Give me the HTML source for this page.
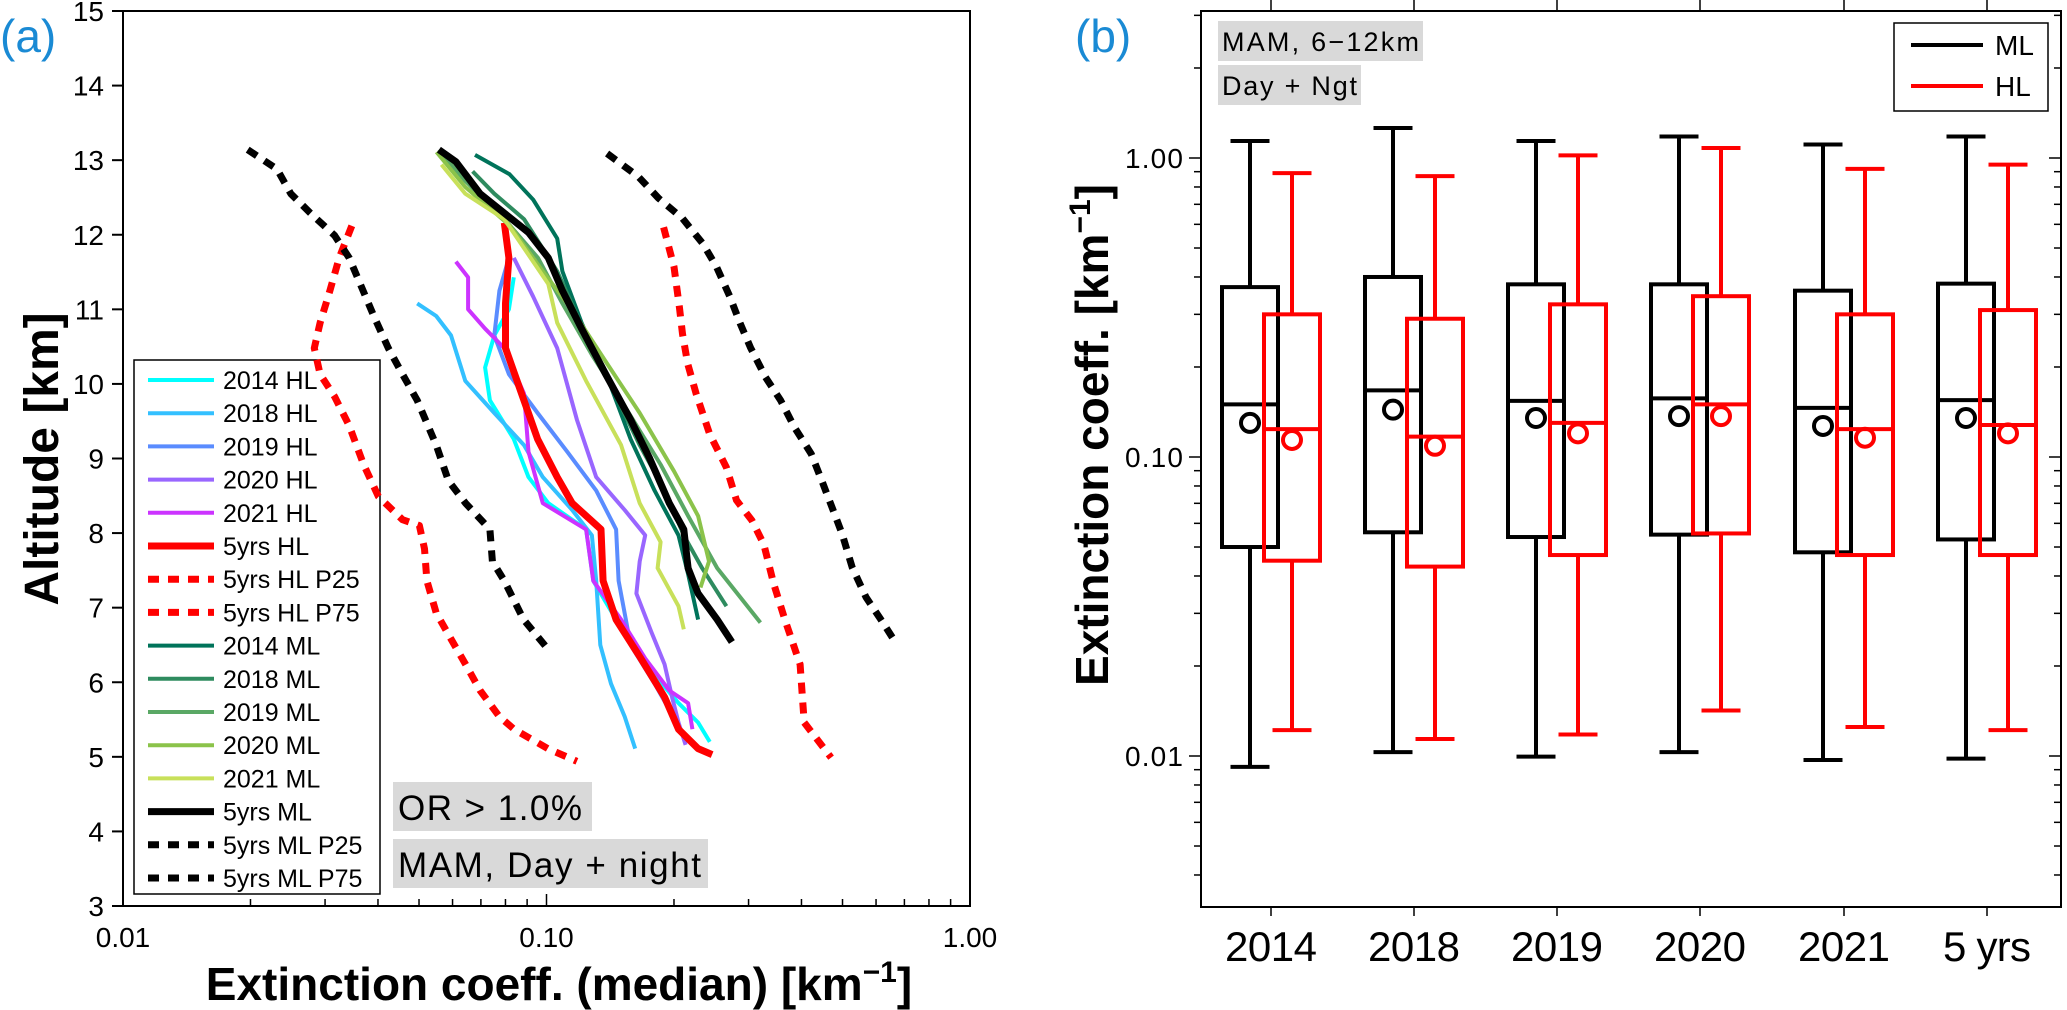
<!DOCTYPE html>
<html><head><meta charset="utf-8"><style>
html,body{margin:0;padding:0;background:#fff;}
svg{display:block;font-family:"Liberation Sans",Arial,sans-serif;}
</style></head><body>
<svg id="fig" width="2067" height="1010" viewBox="0 0 2067 1010" xmlns="http://www.w3.org/2000/svg">
<g id="pa"></g>
<g id="pb"></g>
</svg>
<script>
// ---------- Panel (a) data: extinction values (km^-1) and altitudes (km) ----------
const names=["2014 HL","2018 HL","2019 HL","2020 HL","2021 HL","5yrs HL","5yrs HL P25","5yrs HL P75","2014 ML","2018 ML","2019 ML","2020 ML","2021 ML","5yrs ML","5yrs ML P25","5yrs ML P75"];
const colors=["#00ffff","#33c0ff","#5a8cff","#9966ff","#cc33ff","#ff0000","#ff0000","#ff0000","#00735a","#2e8b5f","#5aa865","#8bc34a","#c8e05a","#000000","#000000","#000000"];
const widths=[4,4,4,4,4,7,7,7,4,4,4,4,4,7,7,7];
const dashed=[0,0,0,0,0,0,1,1,0,0,0,0,0,0,1,1];
const vals=[
[0.0837,0.0815,0.0753,0.0716,0.0735,0.0837,0.0907,0.101,0.124,0.129,0.146,0.171,0.205,0.228,0.243],
[0.0495,0.0549,0.0595,0.0643,0.0753,0.0885,0.098,0.115,0.128,0.131,0.134,0.142,0.153,0.162],
[0.0815,0.0774,0.0753,0.0815,0.0953,0.112,0.131,0.146,0.148,0.158,0.180,0.195,0.216],
[0.0837,0.093,0.106,0.118,0.131,0.153,0.171,0.166,0.163,0.177,0.190,0.198,0.205,0.213],
[0.0611,0.0653,0.0653,0.0716,0.0795,0.0885,0.0907,0.098,0.124,0.129,0.150,0.171,0.195,0.216,0.221],
[0.0795,0.0815,0.080,0.080,0.0862,0.0953,0.106,0.115,0.1345,0.136,0.146,0.167,0.190,0.205,0.228,0.246],
[0.0347,0.0324,0.0308,0.0292,0.0283,0.0292,0.0316,0.0342,0.0370,0.0401,0.0457,0.0501,0.0515,0.0522,0.0549,0.0595,0.0644,0.0697,0.0774,0.0838,0.1007,0.118],
[0.189,0.200,0.206,0.2095,0.2155,0.2256,0.2427,0.266,0.281,0.3055,0.326,0.344,0.366,0.397,0.406,0.47],
[0.0678,0.0818,0.093,0.106,0.109,0.121,0.142,0.158,0.180,0.205,0.216,0.228],
[0.0669,0.0753,0.0885,0.106,0.124,0.145,0.166,0.190,0.211,0.233,0.266],
[0.0557,0.0643,0.0795,0.0955,0.109,0.128,0.153,0.186,0.216,0.253,0.32],
[0.055,0.0643,0.082,0.098,0.115,0.138,0.166,0.200,0.228,0.242,0.231],
[0.0565,0.0643,0.0795,0.101,0.106,0.124,0.150,0.166,0.186,0.183,0.205,0.211],
[0.0557,0.0611,0.0697,0.0795,0.0907,0.101,0.109,0.121,0.138,0.158,0.175,0.195,0.211,0.216,0.228,0.253,0.274],
[0.0197,0.0231,0.0249,0.0277,0.0316,0.0342,0.0391,0.0423,0.0457,0.0495,0.0549,0.0587,0.0644,0.0735,0.0745,0.0795,0.0883,0.1006],
[0.139,0.1647,0.1838,0.2094,0.234,0.252,0.271,0.2866,0.303,0.329,0.357,0.385,0.422,0.447,0.472,0.499,0.527,0.568,0.616,0.673]
];
const alts=[
[11.43,11.00,10.65,10.22,9.78,9.26,8.75,8.40,8.05,7.36,6.84,6.24,5.72,5.46,5.20],
[11.08,10.91,10.65,10.04,9.61,9.18,8.75,8.31,7.97,7.36,6.50,5.98,5.54,5.11],
[11.69,11.25,10.65,10.13,9.61,9.09,8.57,8.05,7.36,6.50,5.98,5.63,5.20],
[11.69,11.17,10.48,9.52,8.75,8.31,7.97,7.62,7.19,6.67,6.24,5.80,5.46,5.16],
[11.64,11.43,11.00,10.74,10.48,9.87,9.09,8.40,8.05,7.36,6.84,6.32,5.89,5.72,5.37],
[12.16,11.69,11.08,10.48,9.96,9.26,8.75,8.40,8.05,7.36,6.84,6.32,5.80,5.37,5.11,5.03],
[12.12,11.69,11.25,10.82,10.48,10.13,9.83,9.44,8.92,8.49,8.18,8.10,7.79,7.36,6.93,6.58,6.24,5.89,5.54,5.37,5.11,4.94],
[12.10,11.57,11.03,10.67,10.27,9.87,9.33,8.88,8.44,8.17,7.85,7.32,6.83,6.24,5.46,4.99],
[13.07,12.81,12.47,11.95,11.51,10.82,9.96,9.26,8.57,7.97,7.45,6.84],
[12.85,12.55,12.21,11.51,10.65,9.87,9.18,8.57,7.97,7.53,7.02],
[13.14,12.72,12.21,11.69,11.08,10.39,9.70,8.92,8.23,7.53,6.80],
[13.11,12.64,12.12,11.51,10.99,10.30,9.61,8.83,8.23,7.62,7.27],
[12.94,12.55,12.21,11.34,10.82,10.04,9.18,8.40,7.88,7.53,7.02,6.71],
[13.14,12.98,12.55,12.29,12.03,11.69,11.25,10.74,10.13,9.52,9.01,8.40,8.05,7.53,7.19,6.84,6.54],
[13.14,12.88,12.55,12.29,11.99,11.69,10.91,10.48,10.13,9.78,9.18,8.70,8.40,8.05,7.62,7.36,6.84,6.45],
[13.09,12.78,12.49,12.22,11.88,11.57,11.17,10.81,10.49,10.09,9.78,9.42,9.06,8.70,8.35,7.99,7.54,7.14,6.84,6.50]
];
const altTicks=[3,4,5,6,7,8,9,10,11,12,13,14,15];
const extTicksA=[0.01,0.10,1.00];
const extTickLabelsA=["0.01","0.10","1.00"];

// ---------- Panel (b) data ----------
const cats=["2014","2018","2019","2020","2021","5 yrs"];
const mlLow=[0.0092,0.0103,0.00995,0.0103,0.0097,0.0098];
const mlQ1=[0.050,0.056,0.054,0.055,0.048,0.053];
const mlMed=[0.150,0.167,0.154,0.157,0.146,0.155];
const mlQ3=[0.370,0.400,0.378,0.378,0.360,0.380];
const mlHigh=[1.14,1.26,1.14,1.18,1.11,1.18];
const mlMean=[0.130,0.144,0.135,0.137,0.127,0.135];
const hlLow=[0.0122,0.0114,0.0118,0.0142,0.0125,0.0122];
const hlQ1=[0.045,0.043,0.047,0.0555,0.047,0.047];
const hlMed=[0.124,0.117,0.130,0.150,0.124,0.128];
const hlQ3=[0.300,0.290,0.324,0.345,0.300,0.310];
const hlHigh=[0.89,0.87,1.02,1.08,0.92,0.95];
const hlMean=[0.114,0.109,0.120,0.137,0.116,0.120];
const extTicksB=[0.01,0.10,1.00];
const extTickLabelsB=["0.01","0.10","1.00"];

const NS="http://www.w3.org/2000/svg";
function mk(parent,tag,attrs,text){const e=document.createElementNS(NS,tag);for(const k in attrs)e.setAttribute(k,attrs[k]);if(text!==undefined)e.textContent=text;parent.appendChild(e);return e;}

// ===== Panel A =====
const A={x0:123,x1:970,y0:11,y1:906};
const xa=v=>A.x0+(Math.log10(v)+2)/2*(A.x1-A.x0);
const ya=h=>A.y0+(15-h)/12*(A.y1-A.y0);
const pa=document.getElementById('pa');
let e;
// legend box (unfilled, drawn beneath lines)
const lg=mk(pa,'g',{});


mk(lg,'rect',{x:134,y:360,width:246,height:534,fill:'none',stroke:'#000','stroke-width':1.5});
names.forEach((n,i)=>{
  const y=380+i*33.2;
  const g=mk(lg,'g',{});
  
  
  const at={x1:148,x2:214,y1:y,y2:y,stroke:colors[i],'stroke-width':widths[i]};
  if(dashed[i])at['stroke-dasharray']='11,9';
  mk(g,'line',at);
  mk(g,'text',{x:223,y:y+9,'font-size':25},n);
});
// series
for(let s=0;s<names.length;s++){
  const pts=vals[s].map((v,i)=>xa(v).toFixed(1)+','+ya(alts[s][i]).toFixed(1)).join(' ');
  const at={points:pts,fill:'none',stroke:colors[s],'stroke-width':widths[s],'stroke-linejoin':'round'};
  if(dashed[s]){at['stroke-dasharray']='11,9';}
  e=mk(pa,'polyline',at);
  
  
}
// frame
e=mk(pa,'rect',{x:A.x0,y:A.y0,width:A.x1-A.x0,height:A.y1-A.y0,fill:'none',stroke:'#000','stroke-width':2});


// y ticks
altTicks.forEach(h=>{
  const y=ya(h);
  mk(pa,'line',{x1:A.x0-11,x2:A.x0,y1:y,y2:y,stroke:'#000','stroke-width':2});
  e=mk(pa,'text',{x:A.x0-19,y:y+10,'text-anchor':'end','font-size':28},String(h));
  
  
});
// x ticks
for(let d=-2;d<0;d++){for(let m=1;m<10;m++){const v=m*Math.pow(10,d);const x=xa(v);const L=m===1?12:7;
  mk(pa,'line',{x1:x,x2:x,y1:A.y1,y2:A.y1-L,stroke:'#000','stroke-width':1.5});}}
extTicksA.forEach((v,i)=>{
  e=mk(pa,'text',{x:xa(v),y:947,'text-anchor':'middle','font-size':28},extTickLabelsA[i]);
  
  
});
// axis titles
e=mk(pa,'text',{x:559,y:1000,'text-anchor':'middle','font-size':46,'font-weight':'bold'});
e.innerHTML='Extinction coeff. (median) [km<tspan dy="-18" font-size="30">−1</tspan><tspan dy="18">]</tspan>';


e=mk(pa,'text',{x:0,y:0,'text-anchor':'middle','font-size':48,'font-weight':'bold',transform:'translate(58,459) rotate(-90)'},'Altitude [km]');


e=mk(pa,'text',{x:0,y:52,'font-size':46,fill:'#1a8ad4'},'(a)');


// annotations
e=mk(pa,'rect',{x:393,y:782,width:199,height:49,fill:'#d9d9d9'});


mk(pa,'text',{x:398,y:820,'font-size':35,textLength:184},'OR > 1.0%');
e=mk(pa,'rect',{x:393,y:839,width:315,height:49,fill:'#d9d9d9'});


mk(pa,'text',{x:398,y:877,'font-size':35,textLength:303},'MAM, Day + night');

// ===== Panel B =====
const B={x0:1201,x1:2061,y0:11,y1:907};
const yb=v=>457-(Math.log10(v)+1)*299;
const catX=[1271,1414,1557,1700,1844,1987];
const pb=document.getElementById('pb');
e=mk(pb,'rect',{x:B.x0,y:B.y0,width:B.x1-B.x0,height:B.y1-B.y0,fill:'none',stroke:'#000','stroke-width':2});


for(let d=-3;d<1;d++){for(let m=1;m<10;m++){const v=m*Math.pow(10,d);const y=yb(v);if(y<B.y0||y>B.y1)continue;const L=m===1?12:7;
  mk(pb,'line',{x1:B.x0-L,x2:B.x0,y1:y,y2:y,stroke:'#000','stroke-width':1.5});
  mk(pb,'line',{x1:B.x1,x2:B.x1-L,y1:y,y2:y,stroke:'#000','stroke-width':1.5});}}
extTicksB.forEach((v,i)=>{
  e=mk(pb,'text',{x:1183,y:yb(v)+10,'text-anchor':'end','font-size':28,textLength:58},extTickLabelsB[i]);
  
  
});
cats.forEach((c,i)=>{
  const x=catX[i];
  mk(pb,'line',{x1:x,x2:x,y1:B.y0,y2:B.y0-11,stroke:'#000','stroke-width':1.5});
  mk(pb,'line',{x1:x,x2:x,y1:B.y1,y2:B.y1+9,stroke:'#000','stroke-width':1.5});
  e=mk(pb,'text',{x:x,y:961,'text-anchor':'middle','font-size':42,textLength:c.length>4?88:92},c);
  
  
});
function box(i,off,col,lo,q1,md,q3,hi,mn,nm){
  const g=mk(pb,'g',{});
  
  
  const cx=catX[i]+off, w=56, cw=39;
  const st={stroke:col,'stroke-width':4,fill:'none'};
  mk(g,'line',Object.assign({x1:cx,x2:cx,y1:yb(hi),y2:yb(q3)},st));
  mk(g,'line',Object.assign({x1:cx,x2:cx,y1:yb(q1),y2:yb(lo)},st));
  mk(g,'line',Object.assign({x1:cx-cw/2,x2:cx+cw/2,y1:yb(hi),y2:yb(hi)},st));
  mk(g,'line',Object.assign({x1:cx-cw/2,x2:cx+cw/2,y1:yb(lo),y2:yb(lo)},st));
  mk(g,'rect',Object.assign({x:cx-w/2,y:yb(q3),width:w,height:yb(q1)-yb(q3)},st));
  mk(g,'line',Object.assign({x1:cx-w/2,x2:cx+w/2,y1:yb(md),y2:yb(md)},st));
  mk(g,'circle',Object.assign({cx:cx,cy:yb(mn),r:9},st));
}
cats.forEach((c,i)=>{
  box(i,-21,'#000',mlLow[i],mlQ1[i],mlMed[i],mlQ3[i],mlHigh[i],mlMean[i],'box-ml-'+i);
  box(i,21,'#ff0000',hlLow[i],hlQ1[i],hlMed[i],hlQ3[i],hlHigh[i],hlMean[i],'box-hl-'+i);
});
e=mk(pb,'text',{x:0,y:0,'text-anchor':'middle','font-size':46,'font-weight':'bold',transform:'translate(1108,435) rotate(-90)'});
e.innerHTML='Extinction coeff.  [km<tspan dy="-18" font-size="30">−1</tspan><tspan dy="18">]</tspan>';


e=mk(pb,'text',{x:1075,y:52,'font-size':46,fill:'#1a8ad4'},'(b)');


e=mk(pb,'rect',{x:1218,y:21,width:205,height:40,fill:'#d9d9d9'});


mk(pb,'text',{x:1222,y:51,'font-size':27,textLength:197},'MAM, 6−12km');
e=mk(pb,'rect',{x:1218,y:65,width:143,height:40,fill:'#d9d9d9'});


mk(pb,'text',{x:1222,y:95,'font-size':27,textLength:135},'Day + Ngt');
const lb=mk(pb,'g',{});


mk(lb,'rect',{x:1894,y:23,width:154,height:88,fill:'#fff',stroke:'#000','stroke-width':1.5});
mk(lb,'line',{x1:1911,x2:1983,y1:45,y2:45,stroke:'#000','stroke-width':4});
mk(lb,'text',{x:1995,y:55,'font-size':28},'ML');
mk(lb,'line',{x1:1911,x2:1983,y1:86,y2:86,stroke:'#ff0000','stroke-width':4});
mk(lb,'text',{x:1995,y:96,'font-size':28},'HL');
</script>
</body></html>
